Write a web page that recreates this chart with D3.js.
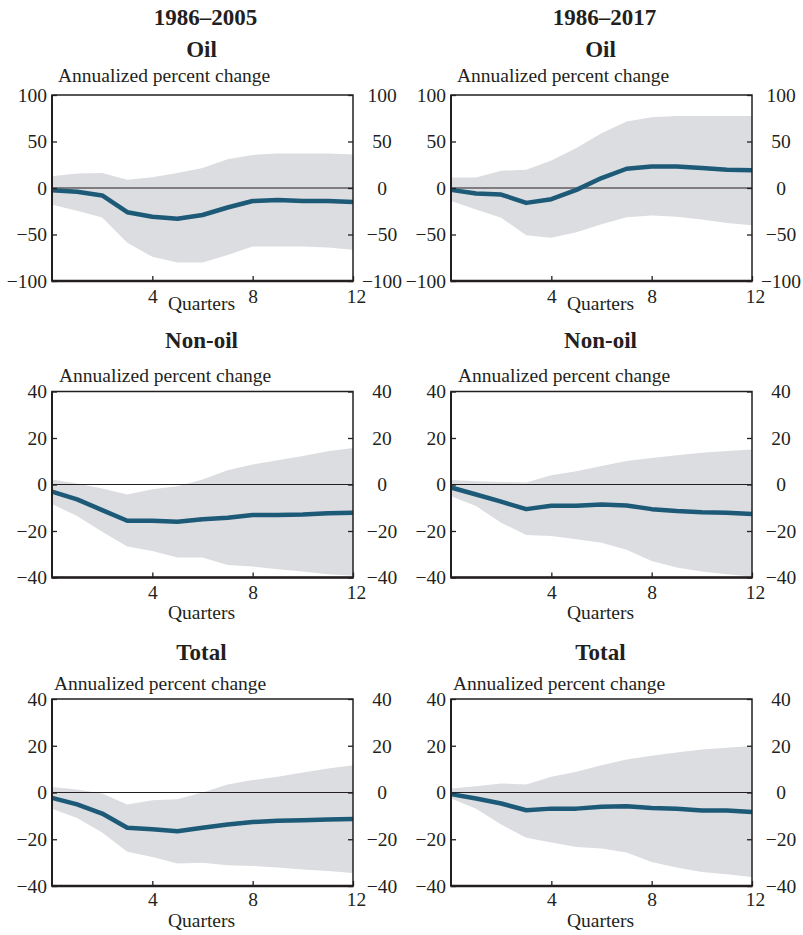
<!DOCTYPE html>
<html>
<head>
<meta charset="utf-8">
<script src="https://cdn.jsdelivr.net/npm/d3@7"></script>
<style>
  html, body { margin: 0; padding: 0; background: #fff; }
  svg { display: block; }
  text { font-family: "Liberation Serif", "Times New Roman", serif; fill: #231f20; }
</style>
</head>
<body>
<svg id="chart" width="803" height="935"></svg>
<script>
// ---------- DATA ----------
const quarters = [0,1,2,3,4,5,6,7,8,9,10,11,12];
const periods = ["1986–2005", "1986–2017"];
const rowTitles = ["Oil", "Non-oil", "Total"];
const yUnitLabel = "Annualized percent change";
const xAxisLabel = "Quarters";
const xTicks = [4, 8, 12];
const oilTicks = [-100, -50, 0, 50, 100];
const otherTicks = [-40, -20, 0, 20, 40];

// Oil, 1986–2005
const oil05Mid   = [-2.5,-4,-8,-26,-31,-33,-29,-21,-14,-13,-14,-14,-15];
const oil05Upper = [12.6,15.5,16,9,11.5,16,21.5,31,35.6,37,37,37,36];
const oil05Lower = [-18,-24.5,-31.7,-59,-74,-80,-80,-72,-63,-63,-63,-64,-66.5];
// Oil, 1986–2017
const oil17Mid   = [-2,-6,-7,-16,-12,-2,10.7,20.7,23,23,21.4,19.6,19];
const oil17Upper = [11.4,11.4,18.6,19.6,29.6,43,59,71.4,76,77.5,77.5,77.5,77.5];
const oil17Lower = [-14,-23,-32,-50.7,-53.6,-47.5,-39,-31.4,-29.6,-31,-34,-37.5,-40];
// Non-oil, 1986–2005
const non05Mid   = [-3.1,-6.4,-11,-15.6,-15.6,-16,-14.9,-14.3,-13.1,-13.1,-12.9,-12.4,-12.1];
const non05Upper = [2.1,0.4,-1.7,-4.3,-2,-0.7,2.1,6.1,8.6,10.4,12.3,14.3,15.7];
const non05Lower = [-8.4,-13.6,-20.3,-26.7,-28.6,-31.4,-31.4,-34.6,-35.3,-36.4,-37.4,-38.6,-39.3];
// Non-oil, 1986–2017
const non17Mid   = [-1.3,-4.3,-7.4,-10.6,-9.1,-9.1,-8.6,-9,-10.6,-11.4,-11.9,-12.1,-12.7];
const non17Upper = [1.9,1.4,1.1,0.9,4,5.7,8,10.1,11.4,12.6,13.7,14.4,15.1];
const non17Lower = [-5,-9.3,-16.4,-21.7,-22.1,-23.6,-25,-28.1,-32.9,-35.7,-37.4,-38.6,-39.6];
// Total, 1986–2005
const tot05Mid   = [-2.3,-5.1,-9,-15.1,-15.7,-16.6,-15.1,-13.7,-12.6,-12.1,-11.9,-11.6,-11.3];
const tot05Upper = [2.4,1.3,-0.4,-5.1,-3.3,-2.9,0,3.4,5.3,6.7,8.6,10.3,11.7];
const tot05Lower = [-6.9,-10.9,-17.1,-25.4,-27.6,-30.4,-30.1,-31.1,-31.4,-32.1,-32.9,-33.6,-34.4];
// Total, 1986–2017
const tot17Mid   = [-0.7,-2.6,-4.7,-7.6,-6.9,-6.9,-6.1,-5.9,-6.6,-7,-7.7,-7.7,-8.3];
const tot17Upper = [1.7,2.7,3.9,3.4,6.7,8.9,11.7,14.1,15.7,17.1,18.4,19.1,19.9];
const tot17Lower = [-2.6,-6.9,-13.7,-19.4,-21.4,-23.3,-24,-25.7,-29.7,-32.1,-34,-35,-36.1];

// ---------- LAYOUT ----------
const svg = d3.select("#chart");
const colX = [52, 451];
const boxW = 301;
const rows = [
  { top: 95,    bottom: 281,   domain: [-100, 100], ticks: oilTicks,   titleY: 57,  unitY: 82,  unitDx: 6, tickLabY: 22, qY: 310 },
  { top: 391.5, bottom: 577.5, domain: [-40, 40],   ticks: otherTicks, titleY: 348, unitY: 382, unitDx: 7, tickLabY: 21, qY: 619 },
  { top: 699,   bottom: 886,   domain: [-40, 40],   ticks: otherTicks, titleY: 660, unitY: 690, unitDx: 2, tickLabY: 20, qY: 927 }
];
const panelData = [
  [ {mid: oil05Mid, up: oil05Upper, lo: oil05Lower}, {mid: oil17Mid, up: oil17Upper, lo: oil17Lower} ],
  [ {mid: non05Mid, up: non05Upper, lo: non05Lower}, {mid: non17Mid, up: non17Upper, lo: non17Lower} ],
  [ {mid: tot05Mid, up: tot05Upper, lo: tot05Lower}, {mid: tot17Mid, up: tot17Upper, lo: tot17Lower} ]
];

const FONT = 19.5;
const TFONT = 23;
const BAND = "#dcdde0";
const LINE = "#1d5a78";
const INK = "#231f20";

// period headers
periods.forEach((p, c) => {
  svg.append("text")
    .attr("x", colX[c] + boxW / 2 + 3).attr("y", 25)
    .attr("text-anchor", "middle")
    .style("font-size", TFONT + "px").style("font-weight", "bold")
    .text(p);
});

rows.forEach((r, ri) => {
  colX.forEach((x0, ci) => {
    const d = panelData[ri][ci];
    const x = d3.scaleLinear().domain([0, 12]).range([x0, x0 + boxW]);
    const y = d3.scaleLinear().domain(r.domain).range([r.bottom, r.top]);
    const g = svg.append("g");

    // row title
    g.append("text")
      .attr("x", x0 + boxW / 2 - 1).attr("y", r.titleY)
      .attr("text-anchor", "middle")
      .style("font-size", TFONT + "px").style("font-weight", "bold")
      .text(rowTitles[ri]);

    // unit label
    g.append("text")
      .attr("x", x0 + r.unitDx).attr("y", r.unitY)
      .style("font-size", FONT + "px")
      .text(yUnitLabel);

    // band
    const area = d3.area()
      .x((v, i) => x(quarters[i]))
      .y0((v, i) => y(d.lo[i]))
      .y1((v, i) => y(d.up[i]));
    g.append("path").datum(d.mid).attr("d", area).attr("fill", BAND);

    // zero line
    g.append("line")
      .attr("x1", x(0)).attr("x2", x(12))
      .attr("y1", y(0)).attr("y2", y(0))
      .attr("stroke", INK).attr("stroke-width", 1.2);

    // main line
    const line = d3.line()
      .x((v, i) => x(quarters[i]))
      .y(v => y(v));
    g.append("path").datum(d.mid).attr("d", line)
      .attr("fill", "none").attr("stroke", LINE)
      .attr("stroke-width", 4.5).attr("stroke-linejoin", "round");

    const fmt = v => v < 0 ? "−" + Math.abs(v) : String(v);

    // left axis (ticks inside)
    const left = d3.axisLeft(y).tickValues(r.ticks).tickSize(-5).tickFormat(fmt);
    const gl = g.append("g").attr("transform", `translate(${x0},0)`).call(left);
    gl.select(".domain").remove();
    gl.selectAll(".tick line").attr("stroke", INK).attr("stroke-width", 1.3);
    gl.selectAll(".tick text").style("font-size", FONT + "px")
      .style("font-family", '"Liberation Serif", serif').attr("fill", INK)
      .attr("x", -5);

    // right axis (ticks inside)
    const right = d3.axisRight(y).tickValues(r.ticks).tickSize(-5).tickFormat(fmt);
    const gr = g.append("g").attr("transform", `translate(${x0 + boxW},0)`).call(right);
    gr.select(".domain").remove();
    gr.selectAll(".tick line").attr("stroke", INK).attr("stroke-width", 1.3);
    gr.selectAll(".tick text").style("font-size", FONT + "px")
      .style("font-family", '"Liberation Serif", serif').attr("fill", INK)
      .attr("text-anchor", "middle").attr("x", 29);

    // bottom axis (ticks inside)
    const bottom = d3.axisBottom(x).tickValues(xTicks).tickSize(-5).tickFormat(d3.format("d"));
    const gb = g.append("g").attr("transform", `translate(0,${r.bottom})`).call(bottom);
    gb.select(".domain").remove();
    gb.selectAll(".tick line").attr("stroke", INK).attr("stroke-width", 1.3);
    gb.selectAll(".tick text").style("font-size", FONT + "px")
      .style("font-family", '"Liberation Serif", serif').attr("fill", INK)
      .attr("dy", null).attr("y", r.tickLabY);
    gb.selectAll(".tick").filter(v => v === 12).select("text").attr("x", 3);

    // box
    g.append("rect")
      .attr("x", x0).attr("y", r.top).attr("width", boxW).attr("height", r.bottom - r.top)
      .attr("fill", "none").attr("stroke", INK).attr("stroke-width", 1.5);
    g.append("line")
      .attr("x1", x0 - 0.5).attr("x2", x0 + boxW + 0.5)
      .attr("y1", r.bottom).attr("y2", r.bottom)
      .attr("stroke", INK).attr("stroke-width", 2.5);
    g.append("line")
      .attr("x1", x0).attr("x2", x0)
      .attr("y1", r.top).attr("y2", r.bottom)
      .attr("stroke", INK).attr("stroke-width", 2);

    // x label
    g.append("text")
      .attr("x", x0 + boxW / 2 - 1).attr("y", r.qY)
      .attr("text-anchor", "middle")
      .style("font-size", FONT + "px")
      .text(xAxisLabel);
  });
});
</script>
</body>
</html>
